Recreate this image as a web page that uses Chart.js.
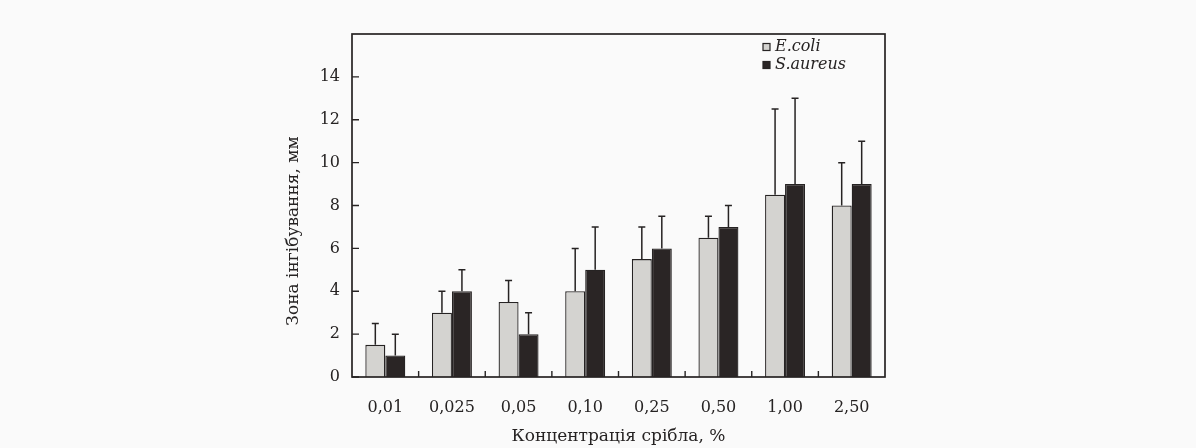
<!DOCTYPE html>
<html lang="uk">
<head>
  <meta charset="UTF-8">
  <title>Зона інгібування</title>
  <script src="https://cdn.jsdelivr.net/npm/chart.js"></script>
  <style>
    body { margin: 0; background: #fafafa; }
    #wrap { width: 1196px; height: 448px; }
  </style>
</head>
<body>
  <div id="wrap"><canvas id="chart" width="1196" height="448"></canvas></div>
  <script>
    const categories = ['0,01', '0,025', '0,05', '0,10', '0,25', '0,50', '1,00', '2,50'];
    const ecoli = [1.5, 3.0, 3.5, 4.0, 5.5, 6.5, 8.5, 8.0];
    const ecoliTop = [2.5, 4.0, 4.5, 6.0, 7.0, 7.5, 12.5, 10.0];
    const saureus = [1.0, 4.0, 2.0, 5.0, 6.0, 7.0, 9.0, 9.0];
    const saureusTop = [2.0, 5.0, 3.0, 7.0, 7.5, 8.0, 13.0, 11.0];
    const yTicks = [0, 2, 4, 6, 8, 10, 12, 14];

    const ink = '#262323';
    const serif = '"DejaVu Serif", "Liberation Serif", serif';

    // error bars (upward only), frame, inward ticks, legend, y title
    const extras = {
      id: 'extras',
      afterDatasetsDraw(chart) {
        const c = chart.ctx;
        const tops = [ecoliTop, saureusTop];
        c.save();
        c.strokeStyle = ink;
        c.lineWidth = 1.5;
        chart.data.datasets.forEach((ds, i) => {
          chart.getDatasetMeta(i).data.forEach((bar, j) => {
            const yTop = chart.scales.y.getPixelForValue(tops[i][j]);
            c.beginPath();
            c.moveTo(bar.x, bar.y);
            c.lineTo(bar.x, yTop);
            c.moveTo(bar.x - 3.5, yTop);
            c.lineTo(bar.x + 3.5, yTop);
            c.stroke();
          });
        });
        c.restore();
      },
      afterDraw(chart) {
        const c = chart.ctx;
        const a = chart.chartArea;
        const x = chart.scales.x, y = chart.scales.y;
        c.save();
        c.strokeStyle = ink;
        c.lineWidth = 1.7;
        c.strokeRect(a.left, a.top, a.right - a.left, a.bottom - a.top);
        c.lineWidth = 1.4;
        c.beginPath();
        yTicks.forEach(v => {
          const py = y.getPixelForValue(v);
          c.moveTo(a.left, py);
          c.lineTo(a.left + 7, py);
        });
        for (let k = 1; k < categories.length; k++) {
          const px = (x.getPixelForValue(k - 1) + x.getPixelForValue(k)) / 2;
          c.moveTo(px, a.bottom);
          c.lineTo(px, a.bottom - 6);
        }
        c.stroke();

        // legend inside plot
        const lx = a.right - 122, ly = a.top + 13;
        c.font = 'italic 16px ' + serif;
        c.textBaseline = 'middle';
        chart.data.datasets.forEach((ds, i) => {
          const yy = ly + i * 18;
          c.fillStyle = ds.backgroundColor;
          c.fillRect(lx, yy - 3.5, 7, 7);
          c.lineWidth = 1.2;
          c.strokeRect(lx, yy - 3.5, 7, 7);
          c.fillStyle = ink;
          c.fillText(ds.label, lx + 12, yy);
        });

        // y title centred on 0..14 range
        c.translate(a.left - 58, y.getPixelForValue(7) + 4);
        c.rotate(-Math.PI / 2);
        c.textAlign = 'center';
        c.font = '17px ' + serif;
        c.fillText('Зона інгібування, мм', 0, 0);
        c.restore();
      }
    };

    new Chart(document.getElementById('chart'), {
      type: 'bar',
      data: {
        labels: categories,
        datasets: [
          { label: 'E.coli', data: ecoli, backgroundColor: '#d4d3d0', borderColor: ink, borderWidth: 1.3 },
          { label: 'S.aureus', data: saureus, backgroundColor: '#2a2525', borderColor: ink, borderWidth: 1.3 }
        ]
      },
      options: {
        responsive: false,
        animation: false,
        layout: { padding: { left: 0, top: 34, right: 311, bottom: 0 } },
        datasets: { bar: { categoryPercentage: 0.6, barPercentage: 1.0 } },
        plugins: { legend: { display: false }, tooltip: { enabled: false } },
        scales: {
          x: {
            grid: { display: false, drawTicks: false },
            border: { display: false },
            ticks: { color: ink, font: { family: serif, size: 16 }, padding: 21 },
            title: { display: true, text: 'Концентрація срібла, %', color: ink, font: { family: serif, size: 17 }, padding: { top: 2, bottom: 1 } },
            afterFit: s => { s.height = 71; }
          },
          y: {
            min: 0, max: 16,
            grid: { display: false, drawTicks: false },
            border: { display: false },
            afterBuildTicks: s => { s.ticks = yTicks.map(v => ({ value: v })); },
            ticks: { color: ink, font: { family: serif, size: 16 }, padding: 12 },
            afterFit: s => { s.width = 352; }
          }
        }
      },
      plugins: [extras]
    });
  </script>
</body>
</html>
